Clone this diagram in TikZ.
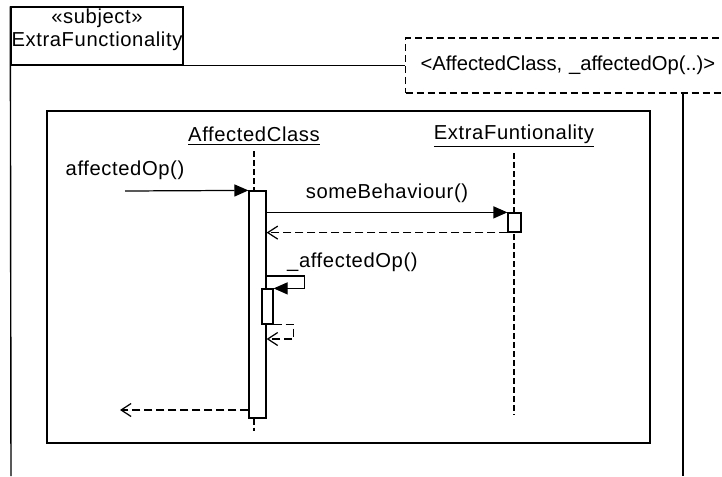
\documentclass[tikz,border=0pt]{standalone}
\usepackage{fontspec}
\setmainfont{Liberation Sans}[LetterSpace=3]
\usetikzlibrary{arrows.meta, positioning, calc}

\begin{document}
\begin{tikzpicture}[
    x=0.02cm, y=-0.02cm,
    font=\fontsize{11.5}{13}\selectfont,
    frame/.style={draw, line width=0.8pt},
    bar/.style={rectangle, draw, fill=white, line width=0.7pt, inner sep=0pt},
    life/.style={line width=0.7pt, dash pattern=on 0.12cm off 0.06cm},
    call/.style={-{Triangle[length=0.28cm, width=0.24cm]}, line width=0.7pt},
    ret/.style={-{Straight Barb[length=0.2cm, width=0.26cm]}, line width=0.7pt, dash pattern=on 0.16cm off 0.08cm}
]
\useasboundingbox (0,0) rectangle (722,476);
\clip (0,0) rectangle (722,476);

% Subject frame with tab
\node[frame, minimum width=3.44cm, minimum height=1.16cm] (subj) at (97,36) {};
\node[align=center] (subjname) at (97,30) {«subject»\\ExtraFunctionality};

% Template parameters
\node[draw, line width=0.7pt, dash pattern=on 0.14cm off 0.08cm, anchor=west, text width=6.6cm, inner xsep=0.3cm, minimum height=1.1cm, align=left] (tmpl) at (405,65.5) {\addfontfeatures{LetterSpace=0}<AffectedClass, \_affectedOp(..)>};

\draw[frame] (subj.north west) -- (11,476);
\draw[frame] (subj.south west) -- (tmpl.west |- subj.south);
\draw[frame] (tmpl.south -| 683,0) -- (683,476);

% Interaction frame
\node[frame, minimum width=12.06cm, minimum height=6.64cm] (seq) at (348.5,277) {};

% Lifelines
\node (cls1) at (254,136) {\underline{AffectedClass}};
\node (cls2) at (514,136) {\underline{ExtraFuntionality}};

\coordinate (end2) at (514,415);
\draw[life] (cls2.south) -- (end2);
\node[bar, minimum width=0.34cm, minimum height=4.54cm] (act1) at (257.5,304.5) {};
\draw[life] (cls1.south) -- (cls1 |- act1.north);
\draw[life] (cls1 |- act1.south) -- ++(0,12);
\node[bar, minimum width=0.26cm, minimum height=0.38cm] (act2) at (514.5,222.5) {};
\node[bar, minimum width=0.22cm, minimum height=0.7cm] (act3) at (267.5,306.5) {};

% Messages
\coordinate (found) at (125,191);
\draw[call] (found) -- (act1.north west);
\node (m1) at (125,170) {affectedOp()};

\draw[call] (act1.east |- act2.north) -- (act2.north west);
\node (m2) at (387,193) {someBehaviour()};
\draw[ret] (act2.south west) -- (act1.east |- act2.south);

\draw[call] (act1.east |- 0,276) -- ++(38,0) |- (act3.north east);
\node[anchor=west] (m3) at (281,262) {\_affectedOp()};
\draw[ret] (act3.south east) -- ++(20,0) |- (act1.east |- 0,339);

\coordinate (lost) at (120,410);
\draw[ret] (act1.west |- lost) -- (lost);

\end{tikzpicture}
\end{document}
